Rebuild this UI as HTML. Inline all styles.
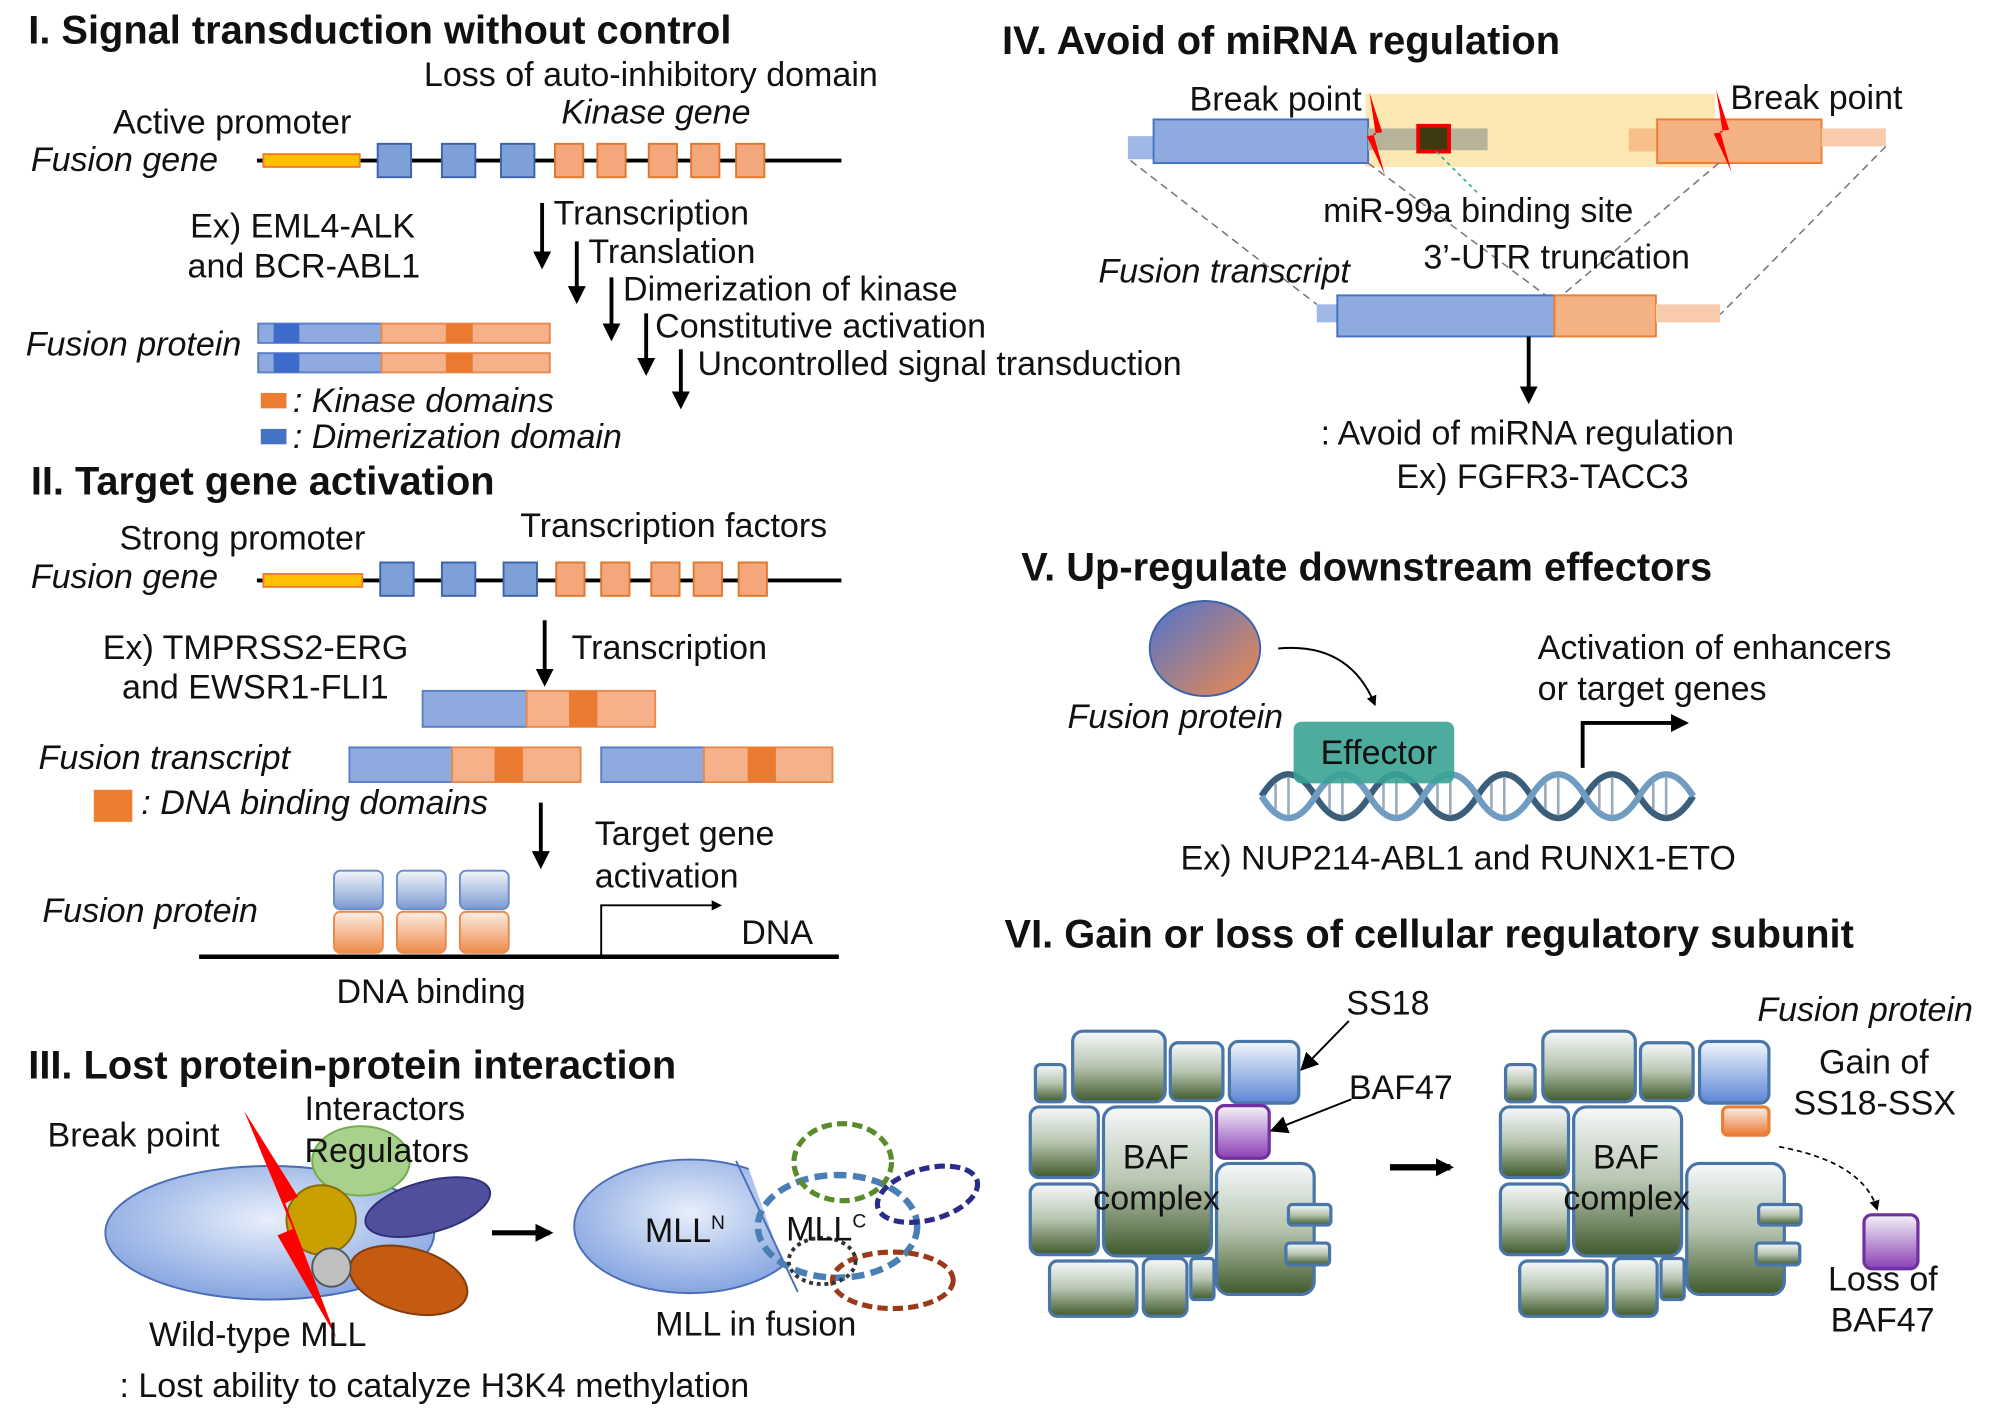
<!DOCTYPE html>
<html><head><meta charset="utf-8"><style>
html,body{margin:0;padding:0;background:#fff;}
svg{display:block;}
text{font-family:"Liberation Sans",sans-serif;font-size:26.5px;fill:#111;}
.t{font-weight:bold;font-size:31px;}
.i{font-style:italic;}
</style></head><body>
<svg width="2004" height="1410" viewBox="0 0 1560 1098" preserveAspectRatio="none" xmlns="http://www.w3.org/2000/svg">
<defs>
<marker id="ah" markerWidth="8" markerHeight="8" refX="6" refY="4" orient="auto" markerUnits="userSpaceOnUse"><path d="M0,0 L8,4 L0,8 z" fill="#000"/></marker>
<marker id="big" viewBox="0 0 10 10" markerWidth="14" markerHeight="14" refX="8" refY="5" orient="auto" markerUnits="userSpaceOnUse"><path d="M0,0 L10,5 L0,10 z" fill="#000"/></marker>
<linearGradient id="gr" x1="0" y1="0" x2="0" y2="1"><stop offset="0" stop-color="#f6f9fb"/><stop offset="0.5" stop-color="#b7c5b0"/><stop offset="1" stop-color="#3f5a2c"/></linearGradient>
<linearGradient id="bl" x1="0" y1="0" x2="0" y2="1"><stop offset="0" stop-color="#f2f6fb"/><stop offset="1" stop-color="#5b86d6"/></linearGradient>
<linearGradient id="pu" x1="0" y1="0" x2="0" y2="1"><stop offset="0" stop-color="#f5f3f9"/><stop offset="1" stop-color="#8a3fb5"/></linearGradient>
<linearGradient id="or" x1="0" y1="0" x2="0" y2="1"><stop offset="0" stop-color="#fbf0ea"/><stop offset="1" stop-color="#ea7a35"/></linearGradient>
<linearGradient id="pb" x1="0" y1="0" x2="0" y2="1"><stop offset="0" stop-color="#f2f6fb"/><stop offset="1" stop-color="#7b9ad0"/></linearGradient>
<linearGradient id="po" x1="0" y1="0" x2="0" y2="1"><stop offset="0" stop-color="#fbeee5"/><stop offset="1" stop-color="#ee8a4a"/></linearGradient>
<linearGradient id="fp" x1="0" y1="0" x2="1" y2="1"><stop offset="0" stop-color="#4d74d0"/><stop offset="1" stop-color="#f08a4b"/></linearGradient>
<radialGradient id="el" cx="0.5" cy="0.4" r="0.6"><stop offset="0" stop-color="#e8effb"/><stop offset="1" stop-color="#86a5e0"/></radialGradient>
<clipPath id="cut"><polygon points="400,880 572,880 626,1030 400,1030"/></clipPath>
</defs>

<!-- ===== I ===== -->
<text x="22" y="34" class="t">I. Signal transduction without control</text>
<text x="330" y="67">Loss of auto-inhibitory domain</text>
<text x="437" y="96" class="i">Kinase gene</text>
<text x="88" y="104">Active  promoter</text>
<text x="24" y="133" class="i">Fusion gene</text>
<line x1="200" y1="125" x2="655" y2="125" stroke="#000" stroke-width="3"/>
<rect x="205" y="120" width="75" height="10" fill="#ffc000" stroke="#ed7d31" stroke-width="1.5"/>
<g fill="#7da0d8" stroke="#3d63a8" stroke-width="1.5">
<rect x="294" y="112" width="26" height="26"/><rect x="344" y="112" width="26" height="26"/><rect x="390" y="112" width="26" height="26"/></g>
<g fill="#f4a77a" stroke="#e0782e" stroke-width="1.5">
<rect x="432" y="112" width="22" height="26"/><rect x="465" y="112" width="22" height="26"/><rect x="505" y="112" width="22" height="26"/><rect x="538" y="112" width="22" height="26"/><rect x="573" y="112" width="22" height="26"/></g>
<g stroke="#000" stroke-width="3" marker-end="url(#big)">
<line x1="422" y1="158" x2="422" y2="207"/><line x1="449" y1="188" x2="449" y2="234"/><line x1="476" y1="216" x2="476" y2="263"/><line x1="503" y1="244" x2="503" y2="290"/><line x1="530" y1="272" x2="530" y2="316"/></g>
<text x="431" y="175">Transcription</text>
<text x="458" y="205">Translation</text>
<text x="485" y="234">Dimerization of kinase</text>
<text x="510" y="263">Constitutive activation</text>
<text x="543" y="292">Uncontrolled signal transduction</text>
<text x="148" y="185">Ex) EML4-ALK</text>
<text x="146" y="216">and BCR-ABL1</text>
<text x="20" y="277" class="i">Fusion protein</text>
<g stroke-width="1.5">
<rect x="201" y="252" width="96" height="15" fill="#8eaadf" stroke="#5b7fc7"/><rect x="213" y="252" width="20" height="15" fill="#3d6ccc"/>
<rect x="297" y="252" width="131" height="15" fill="#f6b08a" stroke="#e88a4c"/><rect x="347" y="252" width="21" height="15" fill="#ea7a30"/>
<rect x="201" y="275" width="96" height="15" fill="#8eaadf" stroke="#5b7fc7"/><rect x="213" y="275" width="20" height="15" fill="#3d6ccc"/>
<rect x="297" y="275" width="131" height="15" fill="#f6b08a" stroke="#e88a4c"/><rect x="347" y="275" width="21" height="15" fill="#ea7a30"/></g>
<rect x="203" y="306" width="20" height="12" fill="#ed7d31"/>
<text x="228" y="321" class="i">: Kinase domains</text>
<rect x="203" y="334" width="20" height="12" fill="#4472c4"/>
<text x="228" y="349" class="i">: Dimerization domain</text>

<!-- ===== II ===== -->
<text x="24" y="385" class="t">II. Target gene activation</text>
<text x="93" y="428">Strong promoter</text>
<text x="405" y="418">Transcription factors</text>
<text x="24" y="458" class="i">Fusion gene</text>
<line x1="200" y1="452" x2="655" y2="452" stroke="#000" stroke-width="3"/>
<rect x="205" y="447" width="77" height="10" fill="#ffc000" stroke="#ed7d31" stroke-width="1.5"/>
<g fill="#7da0d8" stroke="#3d63a8" stroke-width="1.5">
<rect x="296" y="438" width="26" height="26"/><rect x="344" y="438" width="26" height="26"/><rect x="392" y="438" width="26" height="26"/></g>
<g fill="#f4a77a" stroke="#e0782e" stroke-width="1.5">
<rect x="433" y="438" width="22" height="26"/><rect x="468" y="438" width="22" height="26"/><rect x="507" y="438" width="22" height="26"/><rect x="540" y="438" width="22" height="26"/><rect x="575" y="438" width="22" height="26"/></g>
<text x="80" y="513">Ex) TMPRSS2-ERG</text>
<text x="95" y="544">and EWSR1-FLI1</text>
<line x1="424" y1="483" x2="424" y2="532" stroke="#000" stroke-width="3" marker-end="url(#big)"/>
<text x="445" y="513">Transcription</text>
<g stroke-width="1.5">
<rect x="329" y="538" width="81" height="28" fill="#8eaadf" stroke="#5b7fc7"/><rect x="410" y="538" width="100" height="28" fill="#f6b08a" stroke="#e88a4c"/><rect x="443" y="538" width="22" height="28" fill="#ea7a30"/>
<rect x="272" y="582" width="80" height="27" fill="#8eaadf" stroke="#5b7fc7"/><rect x="352" y="582" width="100" height="27" fill="#f6b08a" stroke="#e88a4c"/><rect x="385" y="582" width="22" height="27" fill="#ea7a30"/>
<rect x="468" y="582" width="80" height="27" fill="#8eaadf" stroke="#5b7fc7"/><rect x="548" y="582" width="100" height="27" fill="#f6b08a" stroke="#e88a4c"/><rect x="582" y="582" width="22" height="27" fill="#ea7a30"/></g>
<text x="30" y="599" class="i">Fusion transcript</text>
<rect x="73" y="615" width="30" height="25" fill="#ed7d31"/>
<text x="110" y="634" class="i">: DNA binding domains</text>
<line x1="421" y1="625" x2="421" y2="674" stroke="#000" stroke-width="3" marker-end="url(#big)"/>
<text x="463" y="658">Target gene</text>
<text x="463" y="691">activation</text>
<text x="33" y="718" class="i">Fusion protein</text>
<g stroke-width="1.5">
<rect x="260" y="678" width="38" height="30" rx="5" fill="url(#pb)" stroke="#6b8cc8"/><rect x="260" y="710" width="38" height="32" rx="5" fill="url(#po)" stroke="#e88a4c"/>
<rect x="309" y="678" width="38" height="30" rx="5" fill="url(#pb)" stroke="#6b8cc8"/><rect x="309" y="710" width="38" height="32" rx="5" fill="url(#po)" stroke="#e88a4c"/>
<rect x="358" y="678" width="38" height="30" rx="5" fill="url(#pb)" stroke="#6b8cc8"/><rect x="358" y="710" width="38" height="32" rx="5" fill="url(#po)" stroke="#e88a4c"/></g>
<line x1="155" y1="745" x2="653" y2="745" stroke="#000" stroke-width="3.5"/>
<polyline points="468,745 468,705 560,705" fill="none" stroke="#000" stroke-width="1.5" marker-end="url(#ah)"/>
<text x="577" y="735">DNA</text>
<text x="262" y="781">DNA binding</text>

<!-- ===== III ===== -->
<text x="22" y="840" class="t">III. Lost protein-protein interaction</text>
<text x="237" y="872">Interactors</text>
<text x="37" y="893">Break point</text>
<ellipse cx="210" cy="960" rx="128" ry="52" fill="url(#el)" stroke="#4a6db5" stroke-width="1.5"/>
<ellipse cx="281" cy="904" rx="38" ry="27" fill="#a9d18e" stroke="#70ad47" stroke-width="1.5"/>
<text x="237" y="905">Regulators</text>
<ellipse cx="333" cy="940" rx="50" ry="20" transform="rotate(-15 333 940)" fill="#4f4f9c" stroke="#2f2f7a" stroke-width="1.5"/>
<circle cx="250" cy="950" r="27" fill="#c9a000" stroke="#8a6d00" stroke-width="1.5"/>
<ellipse cx="318" cy="997" rx="47" ry="25" transform="rotate(15 318 997)" fill="#c55a11" stroke="#843c0c" stroke-width="1.5"/>
<circle cx="258" cy="987" r="15" fill="#bfbfbf" stroke="#555" stroke-width="1.5"/>
<polygon points="190,865 232,932 222,937 262,1042 216,962 228,957" fill="#ff0000"/>
<text x="116" y="1048">Wild-type MLL</text>
<line x1="383" y1="960" x2="428" y2="960" stroke="#000" stroke-width="4" marker-end="url(#big)"/>
<ellipse cx="537" cy="955" rx="90" ry="52" fill="url(#el)" stroke="#4a6db5" stroke-width="1.5" clip-path="url(#cut)"/>
<line x1="573" y1="904" x2="621" y2="1006" stroke="#4a6db5" stroke-width="1.5"/>
<text x="502" y="967">MLL<tspan font-size="15" dy="-10">N</tspan></text>
<g fill="none" stroke-width="4" stroke-dasharray="8,4">
<ellipse cx="652" cy="955" rx="62" ry="40" stroke="#4a7fb5" stroke-width="5" stroke-dasharray="10,5"/>
<ellipse cx="656" cy="905" rx="38" ry="30" stroke="#5a8a2a"/>
<ellipse cx="722" cy="930" rx="40" ry="20" stroke="#2b2b8a" transform="rotate(-15 722 930)"/>
<ellipse cx="695" cy="997" rx="47" ry="22" stroke="#9b3a1a"/>
<ellipse cx="640" cy="982" rx="26" ry="18" stroke="#333" stroke-dasharray="3,3" stroke-width="3"/>
</g>
<text x="612" y="966">MLL<tspan font-size="15" dy="-10">C</tspan></text>
<text x="510" y="1040">MLL in fusion</text>
<text x="93" y="1088">: Lost ability to catalyze H3K4 methylation</text>

<!-- ===== IV ===== -->
<text x="780" y="42" class="t">IV. Avoid of miRNA regulation</text>
<rect x="1063" y="73" width="272" height="57" fill="#fde7b3"/>
<rect x="878" y="106" width="20" height="18" fill="#9fb8e6"/>
<rect x="898" y="93" width="167" height="34" fill="#8eaadf" stroke="#4472c4" stroke-width="1.5"/>
<rect x="1065" y="100" width="93" height="17" fill="#b6b39a"/>
<rect x="1104" y="98" width="24" height="20" fill="#3d3a10" stroke="#e00" stroke-width="3"/>
<rect x="1268" y="100" width="22" height="18" fill="#f7c08a"/>
<rect x="1290" y="93" width="128" height="34" fill="#f4b183" stroke="#ed7d31" stroke-width="1.5"/>
<rect x="1418" y="100" width="50" height="14" fill="#f8cbad"/>
<polygon points="1066,72 1076,103 1069,104 1078,136 1064,106 1071,105" fill="#f00"/>
<polygon points="1336,70 1346,101 1339,102 1348,134 1334,104 1341,103" fill="#f00"/>
<text x="926" y="86">Break point</text>
<text x="1347" y="85">Break point</text>
<g stroke="#777" stroke-width="1.2" stroke-dasharray="6,4" fill="none">
<line x1="880" y1="125" x2="1025" y2="237"/><line x1="1065" y1="127" x2="1210" y2="235"/><line x1="1338" y1="127" x2="1210" y2="235"/><line x1="1468" y1="114" x2="1339" y2="245"/></g>
<line x1="1118" y1="118" x2="1150" y2="150" stroke="#2a9" stroke-width="1.2" stroke-dasharray="3,3"/>
<text x="1030" y="173">miR-99a binding site</text>
<text x="1108" y="209">3’-UTR truncation</text>
<text x="855" y="220" class="i">Fusion transcript</text>
<rect x="1025" y="237" width="16" height="14" fill="#9fb8e6"/>
<rect x="1041" y="230" width="169" height="32" fill="#8eaadf" stroke="#4472c4" stroke-width="1.5"/>
<rect x="1210" y="230" width="79" height="32" fill="#f4b183" stroke="#ed7d31" stroke-width="1.5"/>
<rect x="1289" y="237" width="50" height="14" fill="#f8cbad"/>
<line x1="1190" y1="262" x2="1190" y2="312" stroke="#000" stroke-width="3" marker-end="url(#big)"/>
<text x="1028" y="346">: Avoid of miRNA regulation</text>
<text x="1087" y="380">Ex) FGFR3-TACC3</text>

<!-- ===== V ===== -->
<text x="795" y="452" class="t">V. Up-regulate downstream effectors</text>
<ellipse cx="938" cy="505" rx="43" ry="37" fill="url(#fp)" stroke="#3d63a8" stroke-width="1.5"/>
<text x="831" y="567" class="i">Fusion protein</text>
<path d="M995,505 Q1050,500 1070,548" fill="none" stroke="#000" stroke-width="1.5" marker-end="url(#ah)"/>
<g fill="none" stroke-width="5">
<path d="M982,620 q21,-34 42,0 t42,0 t42,0 t42,0 t42,0 t42,0 t42,0 t42,0" stroke="#3b5f7a"/>
<path d="M982,620 q21,34 42,0 t42,0 t42,0 t42,0 t42,0 t42,0 t42,0 t42,0" stroke="#6f9cc0"/>
<g stroke="#9ab" stroke-width="2">
<line x1="993" y1="610" x2="993" y2="630"/><line x1="1003" y1="605" x2="1003" y2="635"/><line x1="1035" y1="610" x2="1035" y2="630"/><line x1="1045" y1="605" x2="1045" y2="635"/><line x1="1077" y1="610" x2="1077" y2="630"/><line x1="1087" y1="605" x2="1087" y2="635"/><line x1="1119" y1="610" x2="1119" y2="630"/><line x1="1129" y1="605" x2="1129" y2="635"/><line x1="1161" y1="610" x2="1161" y2="630"/><line x1="1171" y1="605" x2="1171" y2="635"/><line x1="1203" y1="610" x2="1203" y2="630"/><line x1="1213" y1="605" x2="1213" y2="635"/><line x1="1245" y1="610" x2="1245" y2="630"/><line x1="1255" y1="605" x2="1255" y2="635"/><line x1="1287" y1="610" x2="1287" y2="630"/><line x1="1297" y1="605" x2="1297" y2="635"/></g></g>
<rect x="1007" y="562" width="125" height="48" rx="6" fill="#3aa394" opacity="0.9"/>
<text x="1028" y="595">Effector</text>
<polyline points="1232,598 1232,563 1312,563" fill="none" stroke="#000" stroke-width="3" marker-end="url(#big)"/>
<text x="1197" y="513">Activation of enhancers</text>
<text x="1197" y="545">or target genes</text>
<text x="919" y="677">Ex) NUP214-ABL1 and RUNX1-ETO</text>

<!-- ===== VI ===== -->
<text x="782" y="738" class="t">VI. Gain or loss of cellular regulatory subunit</text>
<g id="cx" stroke="#4a75a8" stroke-width="2.5">
<rect x="806" y="829" width="23" height="29" rx="4" fill="url(#gr)"/>
<rect x="835" y="803" width="72" height="55" rx="8" fill="url(#gr)"/>
<rect x="911" y="812" width="41" height="45" rx="6" fill="url(#gr)"/>
<rect x="802" y="862" width="53" height="55" rx="7" fill="url(#gr)"/>
<rect x="802" y="922" width="53" height="55" rx="7" fill="url(#gr)"/>
<rect x="859" y="862" width="84" height="116" rx="10" fill="url(#gr)"/>
<rect x="947" y="906" width="76" height="102" rx="10" fill="url(#gr)"/>
<rect x="1003" y="938" width="33" height="16" rx="3" fill="url(#gr)"/>
<rect x="1001" y="968" width="34" height="17" rx="3" fill="url(#gr)"/>
<rect x="817" y="982" width="68" height="43" rx="6" fill="url(#gr)"/>
<rect x="890" y="980" width="34" height="45" rx="6" fill="url(#gr)"/>
<rect x="927" y="980" width="18" height="32" rx="3" fill="url(#gr)"/>
<rect x="957" y="811" width="54" height="48" rx="7" fill="url(#bl)"/>
</g>
<rect x="947" y="861" width="41" height="41" rx="6" fill="url(#pu)" stroke="#7030a0" stroke-width="2.5"/>
<text x="874" y="910">BAF</text>
<text x="851" y="942">complex</text>
<use href="#cx" x="366"/>
<rect x="1341" y="862" width="36" height="22" rx="4" fill="url(#or)" stroke="#ed7d31" stroke-width="2.5"/>
<text x="1240" y="910">BAF</text>
<text x="1217" y="942">complex</text>
<line x1="1082" y1="909" x2="1129" y2="909" stroke="#000" stroke-width="5" marker-end="url(#big)"/>
<text x="1048" y="790">SS18</text>
<line x1="1050" y1="795" x2="1014" y2="832" stroke="#000" stroke-width="1.5" marker-end="url(#big)"/>
<text x="1050" y="856">BAF47</text>
<line x1="1052" y1="856" x2="991" y2="880" stroke="#000" stroke-width="1.5" marker-end="url(#big)"/>
<text x="1368" y="795" class="i">Fusion protein</text>
<text x="1416" y="836">Gain of</text>
<text x="1396" y="868">SS18-SSX</text>
<path d="M1385,893 Q1450,905 1461,941" fill="none" stroke="#000" stroke-width="1.3" stroke-dasharray="4,3" marker-end="url(#ah)"/>
<rect x="1451" y="946" width="42" height="42" rx="6" fill="url(#pu)" stroke="#7030a0" stroke-width="2.5"/>
<text x="1423" y="1005">Loss of</text>
<text x="1425" y="1037">BAF47</text>
</svg>
</body></html>
